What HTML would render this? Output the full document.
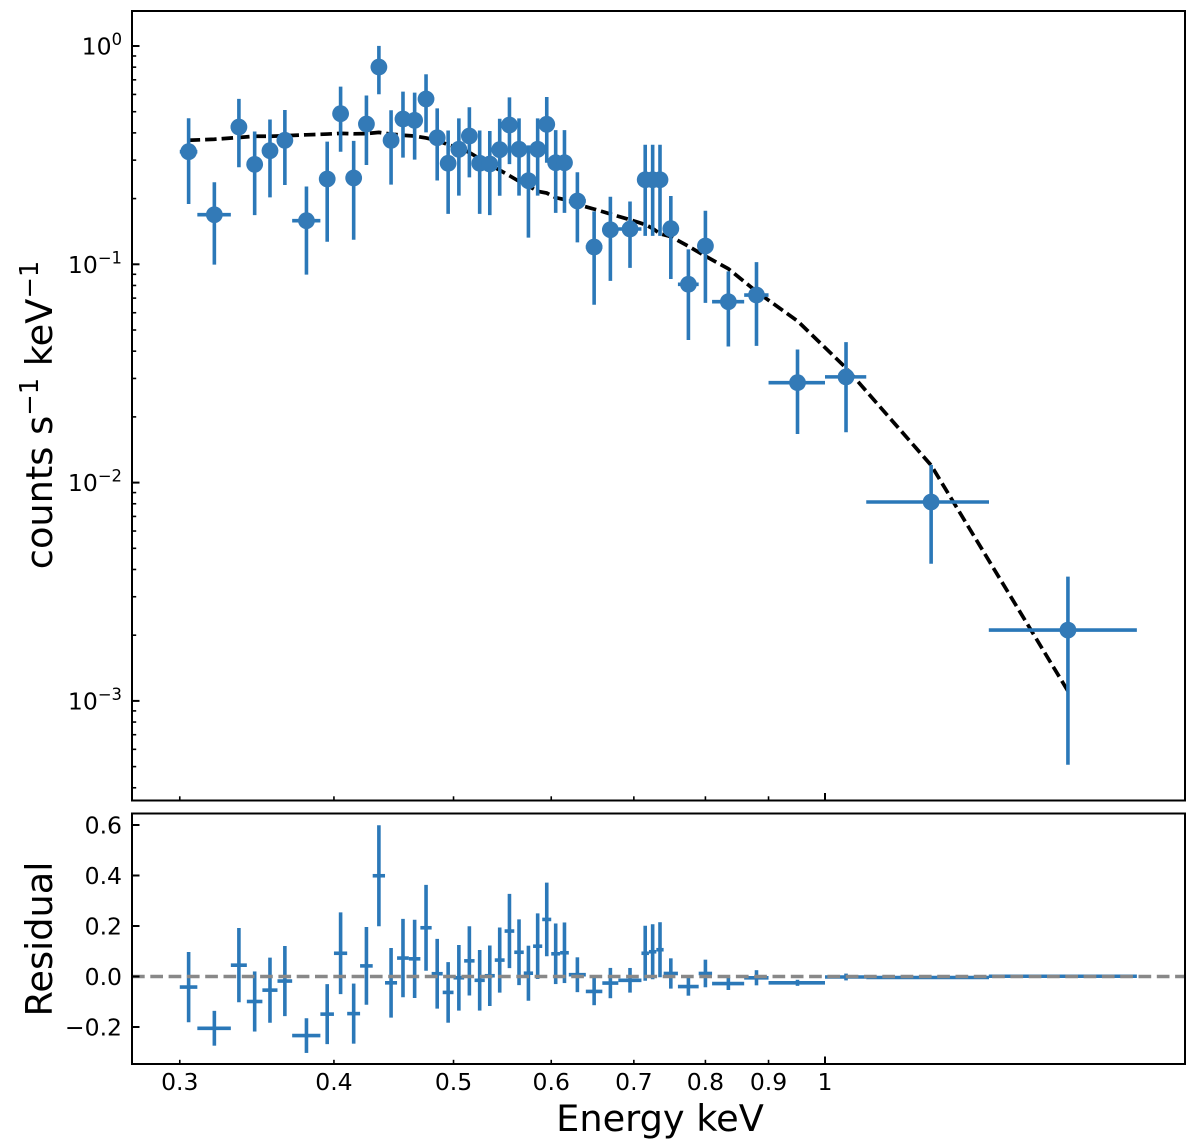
<!DOCTYPE html>
<html lang="en">
<head>
<meta charset="utf-8">
<title>X-ray spectrum with residuals</title>
<style>
html,body{margin:0;padding:0;background:#fff;width:1200px;height:1142px;overflow:hidden}
svg{display:block;filter:blur(0.35px)}
text{font-family:"DejaVu Sans","Liberation Sans",sans-serif;fill:#000}
</style>
</head>
<body>
<svg id="chart" xmlns="http://www.w3.org/2000/svg" width="1200" height="1142" viewBox="0 0 1200 1142">
  <g id="top-panel"></g>
  <g id="bottom-panel"></g>
  <g id="labels">
    <text x="660" y="1131" text-anchor="middle" font-size="36.7">Energy keV</text>
    <text transform="translate(52,415) rotate(-90)" text-anchor="middle" font-size="36.7">counts s<tspan font-size="25.7" dy="-14">−1</tspan><tspan dy="14"> keV</tspan><tspan font-size="25.7" dy="-14">−1</tspan></text>
    <text transform="translate(52,939) rotate(-90)" text-anchor="middle" font-size="36.7">Residual</text>
  </g>
</svg>
<script>
const energy = [0.305,0.32,0.335,0.345,0.355,0.365,0.38,0.395,0.405,0.415,0.425,0.435,0.445,0.455,0.465,0.475,0.485,0.495,0.505,0.515,0.525,0.535,0.545,0.555,0.565,0.575,0.585,0.595,0.605,0.615,0.63,0.65,0.67,0.695,0.715,0.725,0.735,0.75,0.775,0.80,0.835,0.88,0.95,1.04,1.219,1.5735];
const energyErr = [0.005,0.01,0.005,0.005,0.005,0.005,0.01,0.005,0.005,0.005,0.005,0.005,0.005,0.005,0.005,0.005,0.005,0.005,0.005,0.005,0.005,0.005,0.005,0.005,0.005,0.005,0.005,0.005,0.005,0.005,0.01,0.01,0.01,0.015,0.005,0.005,0.005,0.01,0.015,0.01,0.025,0.02,0.05,0.04,0.139,0.216];
const rate = [0.328,0.1687,0.4255,0.287,0.3315,0.3698,0.1584,0.2459,0.4897,0.2486,0.4392,0.801,0.3698,0.4629,0.4566,0.572,0.38,0.2902,0.3363,0.387,0.2902,0.288,0.335,0.4346,0.3363,0.2415,0.3363,0.4378,0.292,0.292,0.195,0.12,0.144,0.1451,0.244,0.244,0.244,0.1456,0.081,0.1213,0.0674,0.0723,0.0287,0.0305,0.00815,0.00211];
const rateErr = [0.139,0.069,0.147,0.119,0.129,0.139,0.0687,0.119,0.162,0.119,0.154,0.2,0.138,0.155,0.155,0.17,0.138,0.12,0.13,0.137,0.12,0.12,0.129,0.147,0.13,0.109,0.13,0.146,0.12,0.12,0.069,0.0547,0.06,0.0488,0.109,0.109,0.109,0.06,0.036,0.0547,0.0254,0.03,0.012,0.0135,0.0039,0.0016];
const model = [0.37,0.374,0.381,0.386,0.386,0.388,0.392,0.395,0.398,0.396,0.397,0.402,0.395,0.39,0.387,0.379,0.369,0.353,0.341,0.325,0.305,0.285,0.27,0.2546,0.24,0.2285,0.216,0.212,0.202,0.198,0.188,0.179,0.17,0.16,0.152,0.146,0.138,0.134,0.121,0.109,0.0954,0.075,0.055,0.0335,0.012,0.00111];
const residual = [-0.042,-0.205,0.045,-0.099,-0.054,-0.018,-0.234,-0.149,0.092,-0.147,0.042,0.399,-0.025,0.073,0.07,0.193,0.011,-0.063,-0.005,0.062,-0.015,0.003,0.065,0.18,0.096,0.013,0.12,0.226,0.09,0.094,0.007,-0.059,-0.026,-0.015,0.092,0.098,0.106,0.012,-0.04,0.012,-0.028,-0.005,-0.025,-0.002,-0.004,0.001];
const xTickValues = [0.3,0.4,0.5,0.6,0.7,0.8,0.9,1];
const xTickLabels = ['0.3','0.4','0.5','0.6','0.7','0.8','0.9','1'];
const yDecades = [1,0.1,0.01,0.001];
const yDecadeExponents = ['0','−1','−2','−3'];
const yMinorFactors = [2,3,4,5,6,7,8,9];
const residualTicks = [-0.2,0,0.2,0.4,0.6];
const residualTickLabels = ['−0.2','0.0','0.2','0.4','0.6'];

const NS = 'http://www.w3.org/2000/svg';
const L = 132, R = 1185, T1 = 11, B1 = 800.5, T2 = 813.5, B2 = 1064;
const BAR = '#2b78b8', DOT = '#337ab7';
const xPx = e => 825 + 1234 * Math.log10(e);
const yPx = v => 46 - 218.3 * Math.log10(v);
const rPx = v => 976.5 - 252.5 * v;

function make(parent, tag, attrs, text) {
  const el = document.createElementNS(NS, tag);
  for (const k in attrs) el.setAttribute(k, attrs[k]);
  if (text !== undefined) el.textContent = text;
  parent.appendChild(el);
  return el;
}
function seg(parent, x1, y1, x2, y2, color, w) {
  return make(parent, 'line', {x1, y1, x2, y2, stroke: color, 'stroke-width': w});
}
const top_ = document.getElementById('top-panel');
const bot = document.getElementById('bottom-panel');

/* model curve */
const modelLine = make(top_, 'polyline', {
  points: energy.map((e, i) => xPx(e).toFixed(2) + ',' + yPx(model[i]).toFixed(2)).join(' '),
  fill: 'none', stroke: '#000', 'stroke-width': 3.7, 'stroke-dasharray': '11.5 5'
});



/* spectrum points */
energy.forEach((e, i) => {
  const g = make(top_, 'g', {});
  
  
  const v = seg(g, xPx(e), yPx(rate[i] + rateErr[i]), xPx(e), yPx(rate[i] - rateErr[i]), BAR, 3.6);
  
  
  const h = seg(g, xPx(e - energyErr[i]), yPx(rate[i]), xPx(e + energyErr[i]), yPx(rate[i]), BAR, 3.6);
  
  
  const c = make(g, 'circle', {cx: xPx(e), cy: yPx(rate[i]), r: 8.4, fill: DOT});
  
  
});

/* residual points */
energy.forEach((e, i) => {
  const g = make(bot, 'g', {});
  
  
  const v = seg(g, xPx(e), rPx(residual[i] + rateErr[i]), xPx(e), rPx(residual[i] - rateErr[i]), BAR, 3.6);
  
  
  const h = seg(g, xPx(e - energyErr[i]), rPx(residual[i]), xPx(e + energyErr[i]), rPx(residual[i]), BAR, 3.6);
  
  
});

/* zero line */
const zero = seg(bot, L, rPx(0), R, rPx(0), '#888888', 3.6);
zero.setAttribute('stroke-dasharray', '12.7 5.6');



/* x ticks on both panels */
xTickValues.forEach((t, i) => {
  const len = t === 1 ? 7.5 : 4.2;
  const w = t === 1 ? 2 : 1.6;
  const a = seg(top_, xPx(t), B1, xPx(t), B1 - len, '#000', w);
  
  
  const b = seg(bot, xPx(t), B2, xPx(t), B2 - len, '#000', w);
  
  
  const lab = make(bot, 'text', {x: xPx(t), y: 1090, 'text-anchor': 'middle', 'font-size': 23.5}, xTickLabels[i]);
  
  
});

/* log y ticks */
yDecades.forEach((d, i) => {
  const y = yPx(d);
  const tk = seg(top_, L, y, L + 7.5, y, '#000', 2);
  
  
  const lab = make(top_, 'text', {x: 122, y: y + 8.5, 'text-anchor': 'end', 'font-size': 23.5}, '10');
  
  
  const sup = make(lab, 'tspan', {'font-size': 16.4, dy: -9.5}, yDecadeExponents[i]);
  
  
  yMinorFactors.forEach(f => {
    const py = yPx(d * f / 10);
    if (py > T1 && py < B1) {
      const m = seg(top_, L, py, L + 4.2, py, '#000', 1.6);
      
      
    }
  });
});

/* residual y ticks */
residualTicks.forEach((t, i) => {
  const y = rPx(t);
  const tk = seg(bot, L, y, L + 7.5, y, '#000', 2);
  
  
  const lab = make(bot, 'text', {x: 122, y: y + 8.5, 'text-anchor': 'end', 'font-size': 23.5}, residualTickLabels[i]);
  
  
});

/* frames */
const f1 = make(top_, 'rect', {x: L, y: T1, width: R - L, height: B1 - T1, fill: 'none', stroke: '#000', 'stroke-width': 2});


const f2 = make(bot, 'rect', {x: L, y: T2, width: R - L, height: B2 - T2, fill: 'none', stroke: '#000', 'stroke-width': 2});


</script>
</body>
</html>
